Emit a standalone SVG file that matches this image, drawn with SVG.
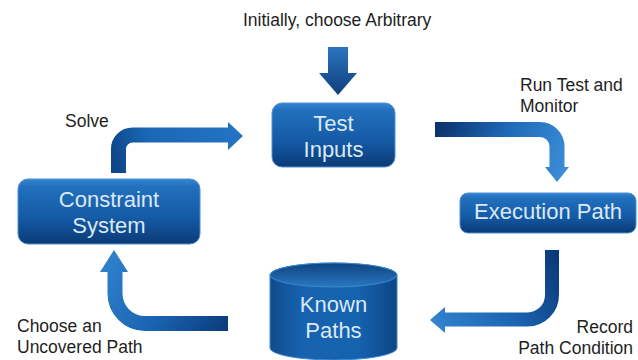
<svg xmlns="http://www.w3.org/2000/svg" width="638" height="360" viewBox="0 0 638 360">
  <defs>
    <linearGradient id="boxGrad" x1="0" y1="0" x2="0" y2="1">
      <stop offset="0" stop-color="#3584cf"/>
      <stop offset="0.12" stop-color="#2270bd"/>
      <stop offset="0.6" stop-color="#145aa5"/>
      <stop offset="1" stop-color="#0b3a76"/>
    </linearGradient>
    <linearGradient id="cylGrad" x1="0" y1="0" x2="1" y2="0">
      <stop offset="0" stop-color="#0f4a8c"/>
      <stop offset="0.25" stop-color="#1763b0"/>
      <stop offset="0.7" stop-color="#1562ae"/>
      <stop offset="1" stop-color="#0d4584"/>
    </linearGradient>
    <linearGradient id="cylTop" x1="0" y1="0" x2="0" y2="1">
      <stop offset="0" stop-color="#0e4381"/>
      <stop offset="1" stop-color="#2a78c2"/>
    </linearGradient>
    <linearGradient id="gDown" gradientUnits="userSpaceOnUse" x1="0" y1="47" x2="0" y2="95">
      <stop offset="0" stop-color="#2b74bf"/>
      <stop offset="1" stop-color="#0f3f7c"/>
    </linearGradient>
    <linearGradient id="gSolve" gradientUnits="userSpaceOnUse" x1="118" y1="173" x2="243" y2="135">
      <stop offset="0" stop-color="#0e4688"/>
      <stop offset="0.3" stop-color="#1a67b5"/>
      <stop offset="1" stop-color="#2474c4"/>
    </linearGradient>
    <linearGradient id="gRun" gradientUnits="userSpaceOnUse" x1="435" y1="129" x2="560" y2="182">
      <stop offset="0" stop-color="#0a326c"/>
      <stop offset="0.5" stop-color="#1f6ab8"/>
      <stop offset="1" stop-color="#3b8dd8"/>
    </linearGradient>
    <linearGradient id="gRec" gradientUnits="userSpaceOnUse" x1="552" y1="250" x2="430" y2="320">
      <stop offset="0" stop-color="#0b3a7a"/>
      <stop offset="0.5" stop-color="#1c66b3"/>
      <stop offset="1" stop-color="#3383cf"/>
    </linearGradient>
    <linearGradient id="gChoose" gradientUnits="userSpaceOnUse" x1="228" y1="324" x2="114" y2="250">
      <stop offset="0" stop-color="#0c3d7e"/>
      <stop offset="0.5" stop-color="#1b66b4"/>
      <stop offset="1" stop-color="#2f80cc"/>
    </linearGradient>
  </defs>
  <style>
    .lbl { font-family: "Liberation Sans", Arial, sans-serif; font-size: 17.5px; fill: #1e1e1e; }
    .box { fill: url(#boxGrad); stroke: #4a92d6; stroke-width: 1; }
    .btxt { font-family: "Liberation Sans", Arial, sans-serif; font-size: 22px; fill: #dbe8f6; text-anchor: middle; }
    .shaft { fill: none; stroke-linecap: butt; }
  </style>
  <rect width="638" height="360" fill="#ffffff"/>

  <g id="connectors">
    <g id="arrow-initial">
      <rect x="328" y="47" width="20" height="27" fill="url(#gDown)"/>
      <polygon points="319,73 357,73 338,95" fill="url(#gDown)"/>
    </g>
    <g id="arrow-solve">
      <path class="shaft" d="M118.5 173 V149 A14 14 0 0 1 132.5 135 H229" stroke="url(#gSolve)" stroke-width="15"/>
      <polygon points="228,122 243,136 228,150" fill="url(#gSolve)"/>
    </g>
    <g id="arrow-run">
      <path class="shaft" d="M435 129.5 H540 A17 17 0 0 1 557 146.5 V168" stroke="url(#gRun)" stroke-width="15"/>
      <polygon points="545,167 569,167 557,182" fill="url(#gRun)"/>
    </g>
    <g id="arrow-record">
      <path class="shaft" d="M552 250 V295 A24.5 24.5 0 0 1 527.5 319.5 H444" stroke="url(#gRec)" stroke-width="14"/>
      <polygon points="445,307 445,333 430,320" fill="url(#gRec)"/>
    </g>
    <g id="arrow-choose">
      <path class="shaft" d="M228 323.5 H145 A30 30 0 0 1 115 293.5 V271" stroke="url(#gChoose)" stroke-width="15"/>
      <polygon points="100,272 128,272 114,250" fill="url(#gChoose)"/>
    </g>
  </g>

  <g id="node-test-inputs">
    <rect class="box" x="272" y="103" width="123" height="64" rx="10"/>
    <text class="btxt" x="333.5" y="131">Test</text>
    <text class="btxt" x="333.5" y="157">Inputs</text>
  </g>

  <g id="node-execution-path">
    <rect class="box" x="460" y="193" width="176" height="40" rx="8"/>
    <text class="btxt" x="548" y="219">Execution Path</text>
  </g>

  <g id="node-constraint-system">
    <rect class="box" x="18" y="179" width="182" height="65" rx="10"/>
    <text class="btxt" x="109" y="207">Constraint</text>
    <text class="btxt" x="109" y="233">System</text>
  </g>

  <g id="node-known-paths">
    <path d="M270 275 A63.5 12 0 0 1 397 275 V348 A63.5 12 0 0 1 270 348 Z" fill="url(#cylGrad)" stroke="#3d88d0" stroke-width="1"/>
    <ellipse cx="333.5" cy="275" rx="63.5" ry="12" fill="url(#cylTop)" stroke="#3d88d0" stroke-width="1"/>
    <text class="btxt" x="333.5" y="312">Known</text>
    <text class="btxt" x="333.5" y="338">Paths</text>
  </g>

  <g id="labels">
    <text class="lbl" x="243" y="26">Initially, choose Arbitrary</text>
    <text class="lbl" x="65" y="127">Solve</text>
    <text class="lbl" x="520" y="91">Run Test and</text>
    <text class="lbl" x="520" y="112">Monitor</text>
    <text class="lbl" x="633" y="333" text-anchor="end">Record</text>
    <text class="lbl" x="633" y="354" text-anchor="end">Path Condition</text>
    <text class="lbl" x="17" y="332">Choose an</text>
    <text class="lbl" x="17" y="353">Uncovered Path</text>
  </g>
</svg>
